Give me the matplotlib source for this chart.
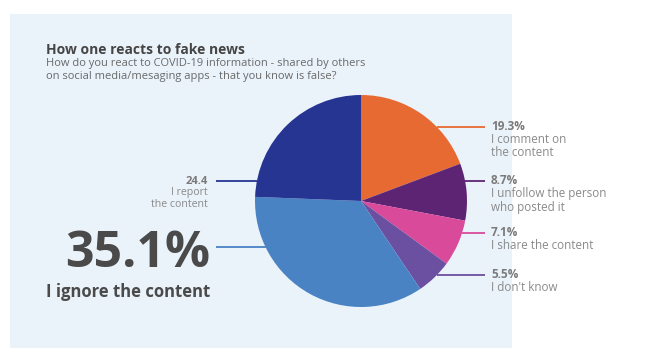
import matplotlib
matplotlib.use("Agg")
import matplotlib.pyplot as plt
from matplotlib.patches import Rectangle
import numpy as np

plt.rcParams['font.family'] = ['Open Sans', 'DejaVu Sans']

# Data (clockwise from 12 o'clock)
labels = ["I comment on\nthe content", "I unfollow the person\nwho posted it",
          "I share the content", "I don't know", "I ignore the content",
          "I report\nthe content"]
values = [19.3, 8.7, 7.1, 5.5, 35.1, 24.4]
value_text = ["19.3%", "8.7%", "7.1%", "5.5%", "35.1%", "24.4"]
colors = ["#E86A33", "#5E2474", "#D94B9A", "#6B4FA0", "#4A83C4", "#263592"]

title = "How one reacts to fake news"
subtitle = ("How do you react to COVID-19 information - shared by others\n"
            "on social media/mesaging apps - that you know is false?")

W, H = 645, 362
fig = plt.figure(figsize=(W / 100, H / 100), dpi=100)
fig.patch.set_facecolor("white")

# background panel
bg = fig.add_axes([0, 0, 1, 1], zorder=0)
bg.set_xlim(0, W); bg.set_ylim(H, 0); bg.axis("off")
bg.add_patch(Rectangle((10, 14), 502, 334, facecolor="#EAF2FA", edgecolor="none"))

# pie
cx, cy, R = 361, 201, 106
pax = fig.add_axes([(cx - R) / W, (H - cy - R) / H, 2 * R / W, 2 * R / H], zorder=1)
pax.pie(values, colors=colors, startangle=90, counterclock=False,
        wedgeprops=dict(linewidth=0), radius=1)
pax.set_xlim(-1, 1); pax.set_ylim(-1, 1); pax.set_aspect("equal")
pax.axis("off")

ov = fig.add_axes([0, 0, 1, 1], zorder=2)
ov.set_xlim(0, W); ov.set_ylim(H, 0); ov.axis("off")
ov.patch.set_alpha(0)

ov.text(46, 50, title, fontsize=10, fontweight="bold", color="#454545", va="center", ha="left")
ov.text(46, 70, subtitle, fontsize=8, color="#6a6a6a", va="center", ha="left", linespacing=1.2)

# right labels
right_y = [127, 181, 233, 275]
for i, y in enumerate(right_y):
    x0 = cx + np.sqrt(R ** 2 - (y - cy) ** 2)
    ov.plot([x0, 485], [y, y], color=colors[i], lw=1.3, solid_capstyle="butt")
    ov.text(491, y, value_text[i], fontsize=8.5, fontweight="bold", color="#7a7a7a",
            va="center", ha="left")
    ov.text(491, y + 6, labels[i], fontsize=8.4, color="#8a8a8a", va="top", ha="left",
            linespacing=1.05)

# left labels
# I report
y = 181
x0 = cx - np.sqrt(R ** 2 - (y - cy) ** 2)
ov.plot([216, x0], [y, y], color=colors[5], lw=1.3, solid_capstyle="butt")
ov.text(208, y + 1, value_text[5], fontsize=8, fontweight="bold", color="#7a7a7a",
        va="center", ha="right")
ov.text(208, y + 6.5, labels[5], fontsize=7.6, color="#8a8a8a", va="top", ha="right",
        linespacing=1.1, multialignment="right")

# I ignore
y = 247
x0 = cx - np.sqrt(R ** 2 - (y - cy) ** 2)
ov.plot([216, x0], [y, y], color=colors[4], lw=1.3, solid_capstyle="butt")
ov.text(210, 254, value_text[4], fontsize=36, fontweight="bold", color="#4a4a4a",
        va="center", ha="right")
ov.text(210, 292, labels[4], fontsize=12, fontweight="bold", color="#4a4a4a",
        va="center", ha="right")

fig.savefig("out.png", dpi=100, facecolor="white")
